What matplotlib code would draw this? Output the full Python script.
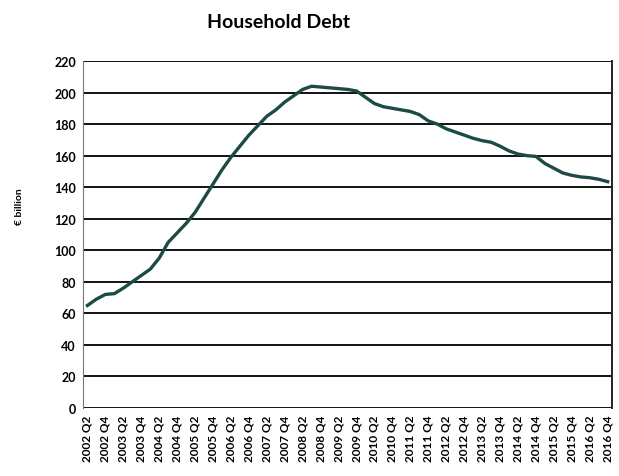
import matplotlib.pyplot as plt
import numpy as np

plt.rcParams['font.family'] = ['Lato', 'DejaVu Sans']

# quarterly household debt, EUR billion, 2002 Q2 .. 2016 Q4
years = list(range(2002, 2017))
quarters = []
for y in years:
    for q in (1, 2, 3, 4):
        if y == 2002 and q < 2:
            continue
        quarters.append('%d Q%d' % (y, q))

debt = [65, 69, 72, 72.5, 76, 80, 84, 88, 95, 105,
        111, 117, 124, 133, 142, 151, 159, 166, 173, 179,
        185, 189, 194, 198, 202, 204, 203.5, 203, 202.5, 202,
        201, 197, 193, 191, 190, 189, 188, 186, 182, 180,
        177, 175, 173, 171, 169.5, 168.5, 166, 163, 161, 160,
        159.5, 155, 152, 149, 147.5, 146.5, 146, 145, 143.5]

yticks = list(range(0, 221, 20))

fig = plt.figure(figsize=(6.19, 4.77), dpi=100)
ax = fig.add_axes([0.134, 0.1426, 0.855, 0.7274])

x = np.arange(len(quarters))
ax.plot(x, debt, color='#1c4a45', lw=2.4, zorder=3)

ax.set_xlim(-0.5, len(quarters) - 0.5)
ax.set_ylim(0, 220)
ax.set_yticks(yticks)
ax.set_yticklabels([str(v) for v in yticks], fontsize=9, fontweight='bold')
tick_idx = [i for i, q in enumerate(quarters) if q.endswith('Q2') or q.endswith('Q4')]
ax.set_xticks(tick_idx)
ax.set_xticklabels([quarters[i] for i in tick_idx], rotation=90, fontsize=8.5, fontweight='bold')
ax.tick_params(length=0, pad=5)
ax.grid(axis='y', color='#111111', lw=1.4)
ax.set_axisbelow(True)

for s in ('top', 'bottom'):
    ax.spines[s].set_visible(False)
ax.spines['left'].set_color('#777777')
ax.spines['right'].set_color('#222222')
ax.spines['right'].set_linewidth(1.4)

fig.text(20 / 619, 1 - 207 / 477, '€ billion', rotation=90, ha='center', va='center',
         fontsize=7.5, fontweight='bold')
fig.text(279 / 619, 1 - 22 / 477, 'Household Debt', ha='center', va='center',
         fontsize=14, fontweight='bold')

fig.savefig('out.png', dpi=100)
